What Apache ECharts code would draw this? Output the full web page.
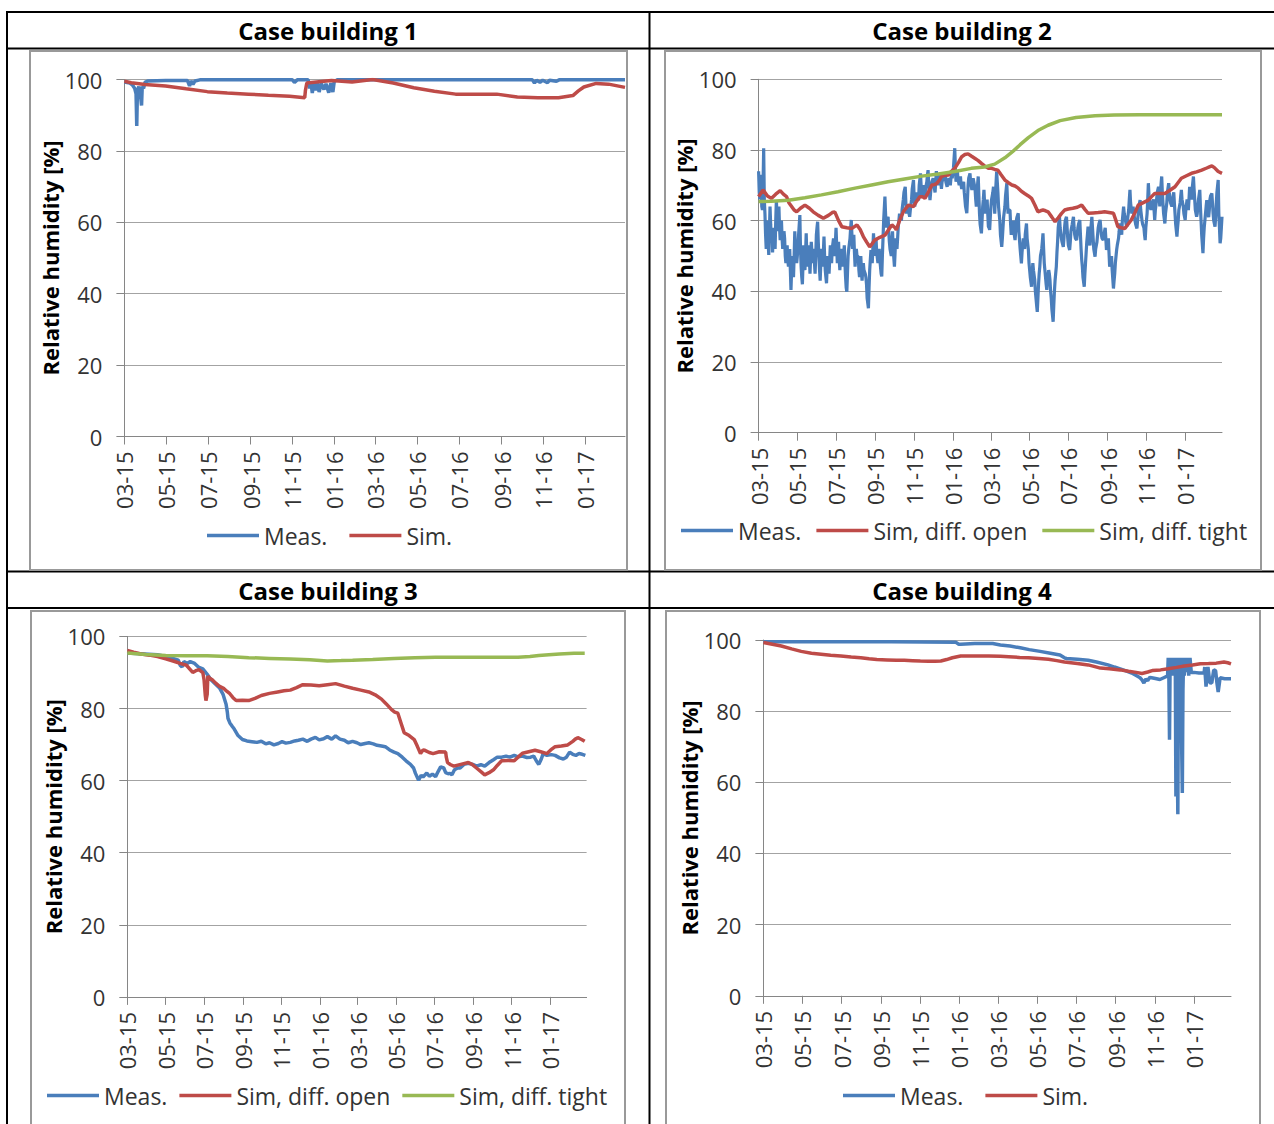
<!DOCTYPE html>
<html>
<head>
<meta charset="utf-8">
<script src="https://cdn.jsdelivr.net/npm/echarts@6/dist/echarts.min.js"></script>
<style>
html,body{margin:0;padding:0;background:#fff;}
#c{width:1274px;height:1124px;}
</style>
</head>
<body>
<div id="c"></div>
<script>
// x values: days since 2015-03-01
const tickLabels = ['03-15','05-15','07-15','09-15','11-15','01-16','03-16','05-16','07-16','09-16','11-16','01-17'];
const yTicks = [0, 20, 40, 60, 80, 100];
const titles = ['Case building 1','Case building 2','Case building 3','Case building 4'];
const yName = 'Relative humidity [%]';

const cb1Meas = [[0,99.3],[8,99.0],[12,98.4],[15,97.5],[17,96],[18,87],[19,97],[21,98],[23,96.5],[25,92.7],[26,98],[28,97.5],[30,99.2],[34,99.6],[60,99.7],[92,99.7],[95,98.2],[97,99.6],[100,98.6],[103,99.6],[110,99.9],[150,99.9],[200,99.9],[245,99.9],[248,99.2],[252,99.9],[268,99.9],[270,97.5],[272,99.3],[274,96.2],[276,99.0],[279,97.0],[281,99.2],[284,96.5],[287,99.0],[291,97.2],[294,98.8],[298,96.3],[301,99.0],[304,96.5],[306,99.4],[310,99.9],[400,99.9],[500,99.9],[595,99.9],[598,99.0],[601,99.8],[606,99.2],[610,99.8],[617,99.1],[620,99.8],[630,99.5],[634,99.9],[730,99.9]];
const cb1Sim = [[0,99.5],[10,99.1],[30,98.6],[60,98.2],[90,97.4],[121,96.6],[150,96.2],[181,95.9],[210,95.6],[241,95.3],[263,94.9],[264,97],[266,99.0],[280,99.3],[302,99.7],[332,99.3],[362,100],[392,99.0],[422,97.7],[452,96.7],[483,95.9],[513,95.9],[543,95.9],[573,95.1],[603,94.9],[633,94.9],[654,95.5],[662,96.8],[670,97.9],[688,98.9],[706,98.7],[730,97.8]];

const cb2Meas = [[0,74],[1,68],[2,66],[3,73],[4,72],[5,64],[6,63],[7,70],[8,80.5],[9,66],[10,62],[11,56],[12,52],[13,58],[14,60],[15,54],[16,50.3],[17,57],[18,64],[19,59],[20,55],[21,58],[22,51],[23,55],[24,58],[25,54],[26,52],[27,60],[28,65.8],[29,61],[30,57],[31,62],[32,64],[33,58],[34,54.5],[35,57],[36,60],[37,55],[38,52],[40,57],[41,55],[42,50],[43,48],[44,52],[45,53],[46,49],[47,47],[48,50],[49,52],[50,46],[51,40.4],[52,46],[53,50],[54,47],[55,44],[56,50],[57,57],[58,53],[60,48],[61,50],[62,52],[63,56],[65,61.6],[66,52],[67,47],[68,44],[69,42],[70,48],[71,53],[72,50],[73,46],[74,51],[75,56.4],[76,50],[77,47],[78,50],[79,53],[80,49],[81,45],[82,50],[83,54],[84,51],[85,48],[86,50],[87,52],[88,48],[89,45],[90,50],[91,56],[92,58],[93,59.7],[94,54],[95,50],[96,46],[97,43],[98,48],[99,52],[100,50],[101,47],[102,51],[103,55.5],[104,50],[105,46],[106,44],[107,42.3],[108,47],[109,50],[110,47],[111,45],[112,49],[113,53],[114,50],[115,48],[116,52],[118,55],[119,52],[120,50],[121,54],[122,58],[123,53],[124,48],[125,51],[126,54],[127,49],[128,46],[129,49],[131,52],[132,49],[133,47],[134,50],[135,53],[136,48],[137,44],[138,41],[139,39.9],[140,45],[141,50],[142,52],[144,55],[145,58],[146,60.2],[147,56],[148,52],[149,54],[150,56],[151,51],[152,47],[153,50],[154,52],[155,50],[157,49.8],[158,46],[159,44],[160,47],[161,50],[162,46],[163,43],[164,46],[165,48],[166,46],[168,45],[169,44],[170,42],[171,38],[173,35.2],[174,41],[175,46],[176,49],[177,51.7],[178,50],[179,48],[180,52],[181,56.4],[182,53],[183,50],[184,53],[185,55],[186,51],[188,48],[189,50],[190,52],[191,49],[192,47],[193,45],[194,44.2],[195,50],[196,55],[197,60],[199,66.8],[200,62],[201,58],[202,60],[204,61.1],[205,57],[206,54],[207,52],[209,50],[210,54],[211,57],[212,52],[214,47],[215,51],[216,55],[217,53],[218,52],[219,55],[220,58.3],[221,60],[222,62],[223,61],[225,60],[226,63],[228,66],[229,68],[231,69.6],[232,65],[233,62],[234,63],[236,64],[237,62],[238,61.1],[239,63],[241,66],[242,69],[244,71.5],[245,67],[246,64],[247,66],[249,68],[250,66],[252,65.8],[253,70],[255,73.4],[256,70],[257,67],[258,69],[260,70],[261,68],[262,66.8],[263,69],[265,71],[266,73],[267,74.3],[268,70],[270,65.8],[271,68],[272,70],[273,71],[275,72],[276,70],[278,68],[279,71],[280,74],[281,72],[283,70],[284,72],[286,73],[287,71],[288,69],[289,71],[291,72],[292,73],[294,73.4],[295,71],[297,69.6],[298,71],[300,72],[301,71],[302,70],[303,72],[304,73],[305,72],[306,72],[307,75],[309,80.5],[310,75],[311,71],[312,73],[313,74.3],[314,72],[316,70],[317,71],[318,72.5],[319,70],[320,69],[321,70],[323,71],[324,68],[325,66],[326,64],[328,62.1],[329,66],[330,70],[331,72],[333,73.4],[334,71],[336,68.7],[337,70],[338,72],[339,71],[341,69],[342,66],[343,64],[344,68],[346,72.5],[347,67],[348,62],[349,59],[351,56.4],[352,60],[353,64],[354,66],[355,68.7],[356,65],[357,62],[358,64],[360,66],[361,62],[362,58.3],[363,58],[364,57.4],[365,61],[366,64],[367,66],[368,67],[369,68],[370,69.6],[371,66],[372,62],[373,67],[375,73.9],[376,71],[377,68],[378,64],[380,60],[381,56],[383,52.6],[384,55],[385,58],[386,61],[388,64],[389,67],[391,70.6],[392,66],[393,62],[394,63],[396,63],[397,59],[398,56],[399,58],[401,60],[402,57],[404,54.5],[405,57],[406,60],[407,61],[409,62.1],[410,57],[412,52],[413,50],[414,47.9],[415,51],[417,55],[418,53],[419,52],[420,56],[422,59.2],[423,55],[425,51.7],[426,48],[427,46],[428,44],[430,41.3],[431,45],[432,48],[433,46],[435,43.2],[436,40],[437,38],[438,36],[439,34.2],[440,38],[441,42],[442,45],[443,47],[444,50],[446,52],[447,54],[448,56.4],[449,52],[450,48],[451,46],[452,44],[453,42],[454,40.4],[455,43],[457,46],[458,45],[459,43.2],[460,40],[461,38],[462,35],[464,31.4],[465,36],[466,40],[467,43],[469,47],[470,51],[471,54],[472,58],[474,61.1],[475,58],[477,55],[478,54],[480,52.6],[481,55],[482,58],[483,60],[485,61.1],[486,58],[487,55],[488,53],[490,51.7],[491,54],[492,57],[494,59],[496,61.1],[497,58],[498,56],[499,55],[501,54.5],[502,56],[503,58],[504,59],[506,60.2],[507,56],[508,52],[509,49],[510,47],[511,44],[513,41.3],[514,45],[515,48],[516,51],[517,54],[518,56],[519,58.3],[520,55],[522,53],[523,57],[525,61.1],[526,58],[527,55],[528,52],[530,49.8],[531,52],[533,54],[534,56],[535,58],[536,59],[538,60.2],[539,58],[540,56],[541,55],[543,54.5],[544,56],[546,58],[547,55],[548,51.7],[549,53],[551,55],[552,51],[553,47],[554,48],[556,50],[557,46],[559,40.8],[560,43],[561,45],[562,48],[564,51.7],[565,53],[567,55],[568,57],[569,59.2],[570,58],[572,56],[573,60],[575,64],[576,62],[578,60],[579,59],[580,58.3],[581,60],[583,63],[584,66],[585,68.7],[586,65],[588,62],[589,63],[590,64],[591,62],[593,60],[594,59],[596,57.8],[597,60],[598,62],[599,64],[601,65.8],[602,63],[604,60],[605,59],[607,58],[608,56],[609,54.5],[610,58],[612,62],[613,66],[614,70.6],[615,67],[617,64],[618,63],[619,64],[620,65],[622,66],[623,63],[624,60.2],[625,63],[627,66],[628,68],[630,69.6],[631,67],[632,64],[633,68],[635,72.5],[636,68],[637,65],[638,62],[640,59.2],[641,62],[643,65],[644,68],[646,70.6],[647,68],[648,66],[649,65],[651,64],[652,66],[654,68],[655,65],[656,62],[657,59],[659,55.5],[660,58],[661,60],[662,63],[664,65],[665,67],[666,68.7],[667,66],[669,64],[670,62],[672,60.2],[673,63],[675,66],[676,65],[677,63],[678,66],[679,69.6],[680,68],[682,66],[683,69],[685,72.5],[686,69],[687,66],[688,63],[690,61.1],[691,62],[692,64],[693,66],[695,68.7],[696,64],[697,60],[698,56],[700,50.8],[701,55],[702,58],[703,60],[704,62],[705,64],[706,65.8],[707,63],[709,61],[710,63],[711,66],[712,67],[714,67.7],[715,65],[716,62],[717,60],[719,58.3],[720,61],[721,65],[722,68],[724,71.5],[725,62],[726,58],[727,53.6],[728,55],[729,58],[730,61.1]];
const cb2Open = [[0,66.8],[7,68.7],[14,67],[20,66.3],[27,67.5],[34,68.5],[39,67.5],[44,66.8],[48,65],[52,64],[56,63],[60,62.5],[66,63.5],[73,64.4],[80,63.5],[86,62.5],[94,61.5],[102,60.7],[110,61.5],[116,62.3],[120,62.5],[126,60],[131,58.3],[139,58],[147,57.8],[151,58.3],[155,58.8],[160,57.5],[165,55.5],[170,54],[175,52.6],[179,53.5],[183,54.5],[191,55.3],[199,55.9],[205,57.5],[210,58.8],[215,58],[217,57.4],[222,60],[228,62.5],[232,63.5],[236,64.4],[240,64.2],[244,64],[249,65.5],[254,66.8],[258,66.8],[262,66.3],[268,68.3],[273,70.1],[277,70.2],[281,70.6],[285,71.5],[288,72.5],[293,72.8],[299,72.9],[304,74],[309,74.8],[315,76.5],[320,78.1],[325,78.7],[330,78.9],[335,78.3],[341,77.6],[346,77],[351,76.2],[356,75.5],[362,74.8],[367,74.8],[372,74.5],[377,74.3],[382,73],[388,71.5],[393,70.8],[399,70.1],[404,69.8],[409,69.2],[414,68.3],[419,67.7],[425,67],[430,66.3],[435,64.5],[440,62.5],[444,62.8],[448,63],[452,62.8],[456,62.5],[462,61],[467,59.7],[472,60.8],[477,62],[482,63],[488,63.3],[495,63.5],[502,63.8],[509,64.4],[514,63.2],[519,62.1],[527,62.2],[535,62.3],[540,62.4],[545,62.5],[552,62.3],[559,62.1],[563,60],[566,58.3],[571,58],[577,57.8],[582,59],[587,60.2],[593,62.3],[598,64.4],[606,65.1],[614,65.8],[619,66.8],[624,67.7],[632,67.7],[640,67.7],[648,68.6],[656,69.6],[661,70.8],[666,72],[674,72.7],[682,73.4],[690,73.8],[698,74.3],[706,74.9],[711,75.3],[714,75.5],[718,75],[724,73.9],[730,73.4]];
const cb2Tight = [[0,65.4],[20,65.5],[47,65.8],[73,66.5],[99,67.3],[125,68.2],[152,69.2],[178,70.1],[204,71],[230,71.8],[257,72.6],[283,73.2],[309,73.9],[335,74.8],[356,75.2],[372,76],[388,77.8],[400,79.5],[412,81.5],[425,83.5],[440,85.5],[456,87],[475,88.3],[500,89.2],[530,89.7],[560,89.9],[600,90],[650,90],[700,90],[730,90]];

const cb3Meas = [[0,95.4],[20,95.2],[48,94.9],[65,94.3],[81,93.4],[84,92],[87,91.5],[90,93],[95,92.5],[100,93],[107,92.5],[113,91.5],[120,91],[127,89.5],[133,88],[140,86.8],[147,85.6],[152,84],[157,81.2],[159,79],[160,77.3],[163,76],[167,75],[170,74.3],[176,72.5],[183,71.4],[190,71],[198,70.8],[206,70.6],[213,70.9],[220,70.2],[226,70.5],[233,69.9],[240,70.3],[246,70.8],[252,70.4],[259,70.6],[266,71],[272,71.2],[279,71.5],[286,70.9],[292,71.5],[299,72],[305,71.3],[312,71.6],[318,72.2],[325,71.5],[331,72.4],[338,71.5],[345,71.2],[351,70.5],[358,70.9],[365,70.5],[371,70],[378,70.3],[384,70.5],[391,70.2],[397,69.8],[404,69.6],[410,69.4],[417,68.5],[424,67.9],[430,67.5],[437,66.5],[443,65.5],[450,64.5],[455,63.5],[458,62],[463,60.1],[467,61.5],[470,61],[476,62.1],[480,61.2],[485,61.8],[490,61.1],[494,62.5],[498,63.8],[503,63.5],[506,62.2],[510,61.9],[513,62],[516,61.6],[520,63],[525,63.5],[529,63.5],[535,64.5],[542,64.8],[549,64.5],[555,64],[562,64.4],[568,64],[575,65],[582,65.8],[588,66.5],[595,66.5],[602,66.8],[608,66.5],[615,67],[621,66.6],[628,66.8],[635,66.4],[641,66.5],[646,66.8],[650,65.5],[654,64.5],[658,66],[661,67.5],[667,67],[674,67.2],[680,67],[687,66.3],[693,66],[698,66.5],[703,67.9],[708,67.3],[713,67],[718,67.5],[723,67.3],[728,67]];
const cb3Open = [[0,96.1],[10,95.6],[22,95.1],[35,94.8],[48,94.4],[61,93.8],[74,93.1],[84,92.5],[94,92],[99,91],[104,90],[109,90.5],[114,90.8],[118,90.2],[120,90],[122,88],[124,83.6],[125,82.2],[127,84],[128,89],[130,88.5],[135,88],[140,87.1],[146,86.2],[153,85.6],[158,84.8],[163,84.1],[168,83],[173,82.2],[183,82.3],[193,82.2],[203,82.8],[213,83.6],[226,84.2],[239,84.6],[249,84.9],[259,85.1],[269,85.8],[279,86.6],[292,86.5],[305,86.3],[318,86.6],[331,86.9],[345,86.2],[358,85.6],[371,85.1],[384,84.6],[394,83.8],[404,82.6],[412,81.2],[420,79.7],[425,79],[430,78.7],[435,76],[440,73.3],[448,72.5],[456,71.4],[461,69.5],[466,67.5],[470,68.5],[473,68.4],[480,67.8],[486,67.5],[496,68],[506,67.9],[507,66.5],[509,65],[514,64.4],[519,64],[530,64.5],[542,65],[548,64.5],[555,63.5],[562,62.5],[568,61.6],[575,62.2],[582,63],[588,64.2],[595,65.5],[605,65.6],[615,65.5],[621,66.5],[628,67.6],[638,68],[648,68.4],[657,68],[667,67.5],[673,68.5],[680,69.4],[690,69.6],[700,69.9],[708,70.9],[712,71.5],[716,71.9],[722,71.4],[727,70.9]];
const cb3Tight = [[0,95.4],[30,95],[61,94.7],[94,94.6],[127,94.6],[160,94.4],[193,94.1],[226,93.9],[259,93.7],[290,93.5],[318,93.2],[340,93.3],[358,93.4],[390,93.6],[424,93.9],[457,94.1],[490,94.2],[520,94.2],[555,94.2],[590,94.2],[621,94.2],[640,94.4],[654,94.7],[670,94.9],[687,95.1],[710,95.3],[727,95.3]];

const cb4Meas = [[0,99.5],[100,99.5],[200,99.5],[300,99.4],[305,98.8],[308,98.8],[330,99],[358,99],[370,98.6],[385,98.3],[401,97.8],[415,97.3],[432,96.8],[448,96.3],[463,95.8],[470,95],[473,94.8],[490,94.6],[507,94.3],[520,93.8],[538,93],[548,92.4],[557,91.9],[566,91.3],[575,90.7],[582,90],[588,89.4],[591,88.8],[594,87.9],[597,89],[600,88.6],[603,89.5],[606,89.4],[612,89.2],[619,88.9],[625,89.4],[631,89.9],[632,95],[633,90],[634,72],[635,95],[636,90],[637,95],[638,91],[639,95],[640,90],[641,95],[642,91],[643,95],[644,56],[645,95],[646,70],[647,51],[648,95],[649,90],[650,95],[651,91],[652,95],[653,70],[654,57],[655,86],[656,95],[657,90],[658,95],[660,91],[662,95],[664,90],[666,95],[668,90.9],[672,90.9],[680,90.7],[688,90.7],[689,92.4],[691,86.9],[694,92.4],[697,88],[700,87.9],[703,91.6],[706,91.4],[708,88],[710,85.4],[713,89.4],[720,89.1],[730,89.1]];
const cb4Sim = [[0,99.3],[14,98.8],[28,98.3],[44,97.5],[59,96.8],[75,96.3],[90,96],[105,95.7],[121,95.5],[137,95.2],[152,95],[165,94.7],[177,94.5],[193,94.4],[208,94.3],[220,94.3],[233,94.2],[245,94.1],[258,94],[268,94],[277,94.1],[286,94.5],[295,95],[308,95.5],[330,95.5],[352,95.5],[370,95.4],[383,95.3],[400,95.1],[414,95],[430,94.8],[445,94.6],[458,94.2],[470,93.8],[490,93.4],[507,93],[516,92.6],[526,92.1],[540,91.9],[557,91.6],[570,91.2],[582,90.9],[591,90.6],[600,91],[607,91.4],[620,91.6],[632,91.9],[645,92.3],[657,92.7],[670,93],[682,93.3],[695,93.4],[707,93.5],[714,93.7],[719,93.8],[725,93.6],[730,93.3]];

const FONT = '"Open Sans", "Noto Sans", sans-serif';
const BLUE = '#4a7ebb', RED = '#be4b48', GREEN = '#98b954';

const dayMs = 86400000;
const origin = Date.UTC(2015, 2, 1);
const tickDays = tickLabels.map(s => {
  const m = parseInt(s.slice(0, 2), 10), y = 2000 + parseInt(s.slice(3), 10);
  return Math.round((Date.UTC(y, m - 1, 1) - origin) / dayMs);
});
const labelOf = {};
tickDays.forEach((d, i) => { labelOf[d] = tickLabels[i]; });

const grids = [
  {left: 124.4, top: 79.5, width: 500.6, height: 357},
  {left: 758.6, top: 79.3, width: 463.4, height: 353.4},
  {left: 127.3, top: 636.4, width: 459.3, height: 360.5},
  {left: 763.4, top: 640, width: 467.6, height: 355.8}
];
const nameGaps = [60, 60, 62, 63];

const chart = echarts.init(document.getElementById('c'), null, {renderer: 'svg'});

const xAxes = grids.map((g, i) => ({
  type: 'value', gridIndex: i, min: 0, max: 730,
  axisLine: {show: true, lineStyle: {color: '#868686', width: 1}},
  axisTick: {show: true, customValues: tickDays, length: 8, lineStyle: {color: '#868686'}},
  axisLabel: {customValues: tickDays, rotate: 90, margin: 15, fontSize: 22, fontFamily: FONT, color: '#333',
    formatter: v => labelOf[Math.round(v)] || ''},
  splitLine: {show: false}
}));
const yAxes = grids.map((g, i) => ({
  type: 'value', gridIndex: i, min: yTicks[0], max: yTicks[yTicks.length - 1], interval: 20,
  name: yName, nameLocation: 'middle', nameGap: nameGaps[i],
  nameTextStyle: {fontSize: 22, fontWeight: 'bold', fontFamily: FONT, color: '#000'},
  axisLine: {show: true, lineStyle: {color: '#868686', width: 1}},
  axisTick: {show: true, length: 8, lineStyle: {color: '#868686'}},
  axisLabel: {margin: 22, fontSize: 22, fontFamily: FONT, color: '#333'},
  splitLine: {show: true, lineStyle: {color: '#a3a3a3', width: 1}}
}));

function ser(name, data, color, idx, w) {
  return {type: 'line', name, data, xAxisIndex: idx, yAxisIndex: idx, showSymbol: false, symbol: 'none',
    lineStyle: {width: w || 3.5, color}, itemStyle: {color}, silent: true, animation: false};
}
const series = [
  ser('Meas.', cb1Meas, BLUE, 0), ser('Sim.', cb1Sim, RED, 0),
  ser('Meas.', cb2Meas, BLUE, 1, 3.2), ser('Sim, diff. open', cb2Open, RED, 1), ser('Sim, diff. tight', cb2Tight, GREEN, 1),
  ser('Meas.', cb3Meas, BLUE, 2), ser('Sim, diff. open', cb3Open, RED, 2), ser('Sim, diff. tight', cb3Tight, GREEN, 2),
  ser('Meas.', cb4Meas, BLUE, 3), ser('Sim.', cb4Sim, RED, 3)
];

function legend(left, top, gap, names) {
  return {left, top, padding: 0, itemGap: gap, itemWidth: 52, itemHeight: 3.5, icon: 'rect',
    selectedMode: false, data: names,
    textStyle: {fontSize: 23, fontFamily: FONT, color: '#333'}};
}
const legends = [
  legend(207, 524, 22, ['Meas.', 'Sim.']),
  legend(681, 519, 15, ['Meas.', 'Sim, diff. open', 'Sim, diff. tight']),
  legend(47, 1084, 12, ['Meas.', 'Sim, diff. open', 'Sim, diff. tight']),
  legend(843, 1084, 22, ['Meas.', 'Sim.'])
];

const black = {stroke: '#000', lineWidth: 2};
const frame = {fill: 'none', stroke: '#999', lineWidth: 2};
const headerPos = [[328, 30], [962, 30], [328, 590], [962, 590]];
const graphic = [
  {type: 'line', shape: {x1: 6, y1: 12, x2: 1274, y2: 12}, style: black},
  {type: 'line', shape: {x1: 6, y1: 48.5, x2: 1274, y2: 48.5}, style: black},
  {type: 'line', shape: {x1: 6, y1: 571.5, x2: 1274, y2: 571.5}, style: black},
  {type: 'line', shape: {x1: 6, y1: 608, x2: 1274, y2: 608}, style: black},
  {type: 'line', shape: {x1: 7, y1: 11, x2: 7, y2: 1124}, style: black},
  {type: 'line', shape: {x1: 649.5, y1: 11, x2: 649.5, y2: 1124}, style: black},
  {type: 'rect', shape: {x: 30, y: 51, width: 597, height: 519}, style: frame},
  {type: 'rect', shape: {x: 665, y: 51, width: 596, height: 519}, style: frame},
  {type: 'rect', shape: {x: 31, y: 611, width: 594, height: 530}, style: frame},
  {type: 'rect', shape: {x: 666, y: 611, width: 594, height: 530}, style: frame}
].concat(titles.map((t, i) => ({
  type: 'text', x: headerPos[i][0], y: headerPos[i][1],
  style: {text: t, fontSize: 24, fontWeight: 'bold', fontFamily: FONT, fill: '#000', align: 'center', verticalAlign: 'middle'}
})));

chart.setOption({
  animation: false,
  backgroundColor: '#fff',
  grid: grids.map(g => Object.assign({containLabel: false, outerBoundsMode: 'none'}, g)),
  xAxis: xAxes,
  yAxis: yAxes,
  legend: legends,
  series,
  graphic
});
</script>
</body>
</html>
